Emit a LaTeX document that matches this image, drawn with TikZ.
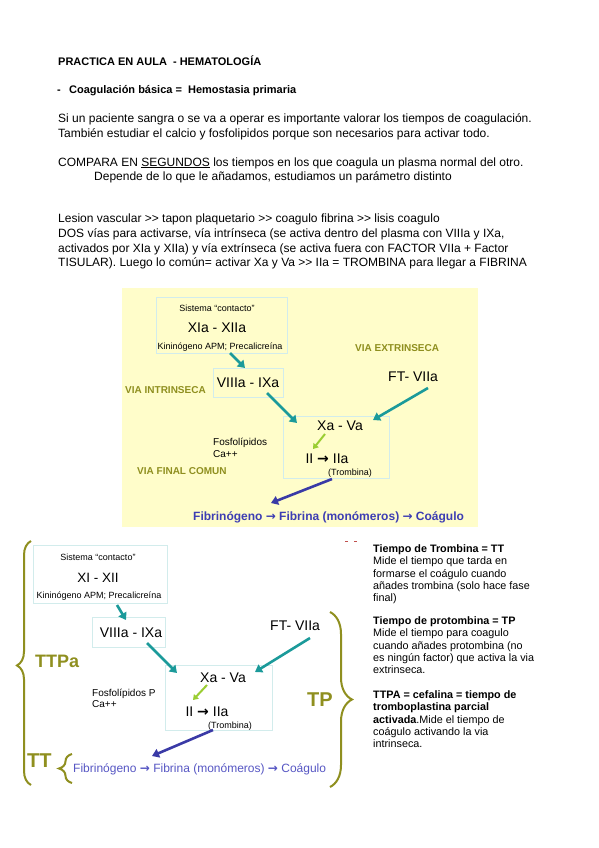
\documentclass[tikz,border=0pt]{standalone}
\usepackage{fontspec}
\setmainfont{Liberation Sans}
\newfontfamily\dvs{DejaVu Sans}
\usetikzlibrary{arrows.meta,decorations.pathreplacing}
\definecolor{ybg}{HTML}{FFFDCA}
\definecolor{boxc}{HTML}{D2ECEC}
\definecolor{olive1}{HTML}{8F8F1F}
\definecolor{teal1}{HTML}{1B9A9A}
\definecolor{green1}{HTML}{9ACD32}
\definecolor{purp1}{HTML}{3A3AA6}
\definecolor{blue1}{HTML}{3D3DB3}
\definecolor{blue2}{HTML}{5757C4}
\definecolor{red1}{HTML}{C0504D}
\newcommand{\fs}[2]{\fontsize{#1}{#2}\selectfont}
\newcommand{\rar}{{\dvs\bfseries →}}
\newcommand{\dblgt}{>{}>}
\begin{document}
\begin{tikzpicture}[x=1pt,y=-1pt,
  tx/.style={inner sep=0pt, anchor=base west, text=black},
  tc/.style={inner sep=0pt, anchor=base, text=black},
  bx/.style={draw=boxc, line width=0.8pt, inner sep=0pt},
  body/.style={tx, font=\fs{12}{15}},
  side/.style={tx, font=\fs{10.8}{12.3}},
  sideb/.style={tx, font=\fs{10.8}{12.3}\bfseries},
  small/.style={tc, font=\fs{9}{11}},
  big/.style={tc, font=\fs{14}{16}},
  via/.style={tx, font=\fs{10}{12}\bfseries, text=olive1},
  tarrow/.style={draw=teal1, line width=2.6pt, -{Triangle[length=7pt,width=9pt]}},
  garrow/.style={draw=green1, line width=2pt, -{Triangle[length=5pt,width=6.5pt]}},
  parrow/.style={draw=purp1, line width=2.6pt, -{Triangle[length=7pt,width=9pt]}},
  brc/.style={draw=olive1, line width=2pt, decorate},
  lbl/.style={tx, font=\fs{20}{22}\bfseries, text=olive1}
]
\useasboundingbox (0,0) rectangle (599,848);
\fill[white] (0,0) rectangle (599,848);

% ---------- top text ----------
\node[tx, font=\fs{11}{13}\bfseries] (title) at (58,66) {PRACTICA EN AULA\ \ - HEMATOLOGÍA};
\node[tx, font=\fs{11}{13}\bfseries] (dash) at (57,94) {-};
\node[tx, font=\fs{11}{13}\bfseries] (sub) at (69,94) {Coagulación básica =\ \ Hemostasia primaria};

\node[body] (p1) at (58,123) {Si un paciente sangra o se va a operar es importante valorar los tiempos de coagulación.};
\node[body] (p2) at (58,138) {También estudiar el calcio y fosfolipidos porque son necesarios para activar todo.};
\node[body] (p3) at (58,166) {COMPARA EN \underline{SEGUNDOS} los tiempos en los que coagula un plasma normal del otro.};
\node[body] (p4) at (94,180) {Depende de lo que le añadamos, estudiamos un parámetro distinto};

\node[body] (q1) at (58,222) {Lesion vascular \dblgt\ tapon plaquetario \dblgt\ coagulo fibrina \dblgt\ lisis coagulo};
\node[body] (q2) at (58,237) {DOS vías para activarse, vía intrínseca (se activa dentro del plasma con VIIIa y IXa,};
\node[body] (q3) at (58,252) {activados por XIa y XIIa) y vía extrínseca (se activa fuera con FACTOR VIIa + Factor};
\node[body] (q4) at (58,266.5) {TISULAR). Luego lo común= activar Xa y Va \dblgt\ IIa = TROMBINA para llegar a FIBRINA};

% ---------- yellow diagram ----------
\node[fill=ybg, draw=none, inner sep=0pt, minimum width=356, minimum height=239, anchor=north west] (ybox) at (122,288) {};

\node[bx, minimum width=131, minimum height=56] (c1) at (221.5,325) {};
\node[small] (c1a) at (217,311) {Sistema “contacto”};
\node[big] (c1b) at (217,332) {XIa - XIIa};
\node[small] (c1c) at (220,349) {Kininógeno APM; Precalicreína};

\node[bx, minimum width=70, minimum height=29] (v8) at (248,382.5) {};
\node[big] (v8t) at (248,387) {VIIIa - IXa};

\node[via] (vi) at (125,393.6) {VIA INTRINSECA};
\node[via] (ve) at (355,351.6) {VIA EXTRINSECA};
\node[tx, font=\fs{14}{16}] (ft) at (388,381) {FT- VIIa};

\node[bx, minimum width=106, minimum height=62] (xa) at (336,447) {};
\node[big] (xat) at (340,430) {Xa - Va};
\node[big] (iit) at (327,463) {II \rar\ IIa};
\node[small] (trt) at (350,475) {(Trombina)};

\node[tx, font=\fs{10}{11.5}] (fo1) at (213,445) {Fosfolípidos};
\node[tx, font=\fs{10}{11.5}] (fo2) at (213,457) {Ca++};
\node[via] (vf) at (137,474.6) {VIA FINAL COMUN};

\node[tx, font=\fs{12}{14}\bfseries, text=blue1] (fib1) at (193,520) {Fibrinógeno \rar\ Fibrina (monómeros) \rar\ Coágulo};

\coordinate (a1s) at (230,353); \coordinate (a1e) at (245,368);
\coordinate (a2s) at (267,393); \coordinate (a2e) at (297,423);
\coordinate (a3s) at (428,388); \coordinate (a3e) at (373,420);
\coordinate (g1s) at (325,434); \coordinate (g1e) at (313,449);
\coordinate (p1s) at (332,479); \coordinate (p1e) at (271,503);
\draw[tarrow] (a1s) -- (a1e);
\draw[tarrow] (a2s) -- (a2e);
\draw[tarrow] (a3s) -- (a3e);
\draw[garrow] (g1s) -- (g1e);
\draw[parrow] (p1s) -- (p1e);

% ---------- bottom diagram ----------
\node[bx, minimum width=134, minimum height=58] (d1) at (100,574) {};
\node[small] (d1a) at (98,560) {Sistema “contacto”};
\node[tc, font=\fs{13.5}{16}] (d1b) at (98,582) {XI - XII};
\node[small] (d1c) at (99,598) {Kininógeno APM; Precalicreína};

\node[bx, minimum width=73, minimum height=30] (d8) at (128.5,632) {};
\node[big] (d8t) at (131,637) {VIIIa - IXa};
\node[tx, font=\fs{14}{16}] (dft) at (270,630) {FT- VIIa};

\node[bx, minimum width=107, minimum height=65] (dx) at (218.5,697.5) {};
\node[big] (dxt) at (223,682) {Xa - Va};
\node[big] (dii) at (207,716) {II \rar\ IIa};
\node[small] (dtr) at (230,728) {(Trombina)};

\node[tx, font=\fs{10}{11.5}] (dfo1) at (92,696) {Fosfolípidos P};
\node[tx, font=\fs{10}{11.5}] (dfo2) at (92,707) {Ca++};

\node[tx, font=\fs{12}{14}, text=blue2] (fib2) at (73,772) {Fibrinógeno \rar\ Fibrina (monómeros) \rar\ Coágulo};

\coordinate (b1s) at (117,605); \coordinate (b1e) at (126,620);
\coordinate (b2s) at (147,643); \coordinate (b2e) at (177,673);
\coordinate (b3s) at (310,638); \coordinate (b3e) at (255,672);
\coordinate (bgs) at (207,685); \coordinate (bge) at (193,700);
\coordinate (bps) at (213,730); \coordinate (bpe) at (152,756);
\draw[tarrow] (b1s) -- (b1e);
\draw[tarrow] (b2s) -- (b2e);
\draw[tarrow] (b3s) -- (b3e);
\draw[garrow] (bgs) -- (bge);
\draw[parrow] (bps) -- (bpe);

% braces and labels
\coordinate (br1a) at (31,785); \coordinate (br1b) at (31,541);
\draw[brc, decoration={brace, amplitude=14pt, aspect=0.49}] (br1a) -- (br1b);
\coordinate (br2a) at (330,612); \coordinate (br2b) at (330,787);
\draw[brc, decoration={brace, amplitude=22pt}] (br2a) -- (br2b);
\coordinate (br3a) at (72,783); \coordinate (br3b) at (72,754);
\draw[brc, decoration={brace, amplitude=13pt}] (br3a) -- (br3b);

\node[tx, font=\fs{18}{20}\bfseries, text=olive1] (ttpa) at (35,667.5) {TTPa};
\node[lbl] (tp) at (307,706) {TP};
\node[lbl] (tt) at (27,767) {TT};

% small red marks
\coordinate (rm1a) at (345,541); \coordinate (rm1b) at (348,541);
\coordinate (rm2a) at (354,541); \coordinate (rm2b) at (357,541);
\draw[red1, line width=0.8pt] (rm1a) -- (rm1b);
\draw[red1, line width=0.8pt] (rm2a) -- (rm2b);

% ---------- right column ----------
\node[sideb] (r1) at (373,552.5) {Tiempo de Trombina = TT};
\node[side] (r2) at (373,564.8) {Mide el tiempo que tarda en};
\node[side] (r3) at (373,577.1) {formarse el coágulo cuando};
\node[side] (r4) at (373,589.4) {añades trombina (solo hace fase};
\node[side] (r5) at (373,601.7) {final)};

\node[sideb] (s1) at (373,624.5) {Tiempo de protombina = TP};
\node[side] (s2) at (373,636.8) {Mide el tiempo para coagulo};
\node[side] (s3) at (373,649.1) {cuando añades protombina (no};
\node[side] (s4) at (373,661.4) {es ningún factor) que activa la via};
\node[side] (s5) at (373,673.7) {extrinseca.};

\node[sideb] (u1) at (373,698.5) {TTPA = cefalina = tiempo de};
\node[sideb] (u2) at (373,710.8) {tromboplastina parcial};
\node[side] (u3) at (373,723.1) {\textbf{activada}.Mide el tiempo de};
\node[side] (u4) at (373,735.4) {coágulo activando la via};
\node[side] (u5) at (373,747.7) {intrinseca.};
\end{tikzpicture}
\end{document}
